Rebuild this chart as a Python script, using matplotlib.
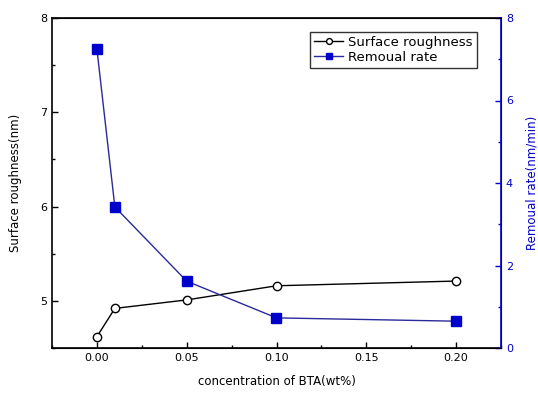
import numpy as np
import matplotlib.pyplot as plt
from matplotlib.ticker import MultipleLocator

plt.rcParams['font.family'] = ['DejaVu Sans']

conc = [0.00, 0.01, 0.05, 0.10, 0.20]
roughness = [4.62, 4.92, 5.01, 5.16, 5.21]
removal_rate = [7.25, 3.42, 1.62, 0.73, 0.65]

blue = '#0000cc'

fig = plt.figure(figsize=(5.38, 3.94), dpi=100)
ax = fig.add_axes([52 / 538, 1 - 348 / 394, 449 / 538, 330 / 394])
ax2 = ax.twinx()

l1, = ax.plot(conc, roughness, '-', color='black', lw=1.0, marker='o',
              mfc='white', mec='black', ms=6, label='Surface roughness')
l2, = ax2.plot(conc, removal_rate, '-', color='#2a2a9a', lw=1.0, marker='s',
               mfc=blue, mec=blue, ms=6.5, label='Remoual rate')

ax.set_xlim(-0.025, 0.225)
ax.set_ylim(4.5, 8)
ax2.set_ylim(0, 8)

ax.xaxis.set_major_locator(MultipleLocator(0.05))
ax.xaxis.set_minor_locator(MultipleLocator(0.025))
ax.yaxis.set_major_locator(MultipleLocator(1))
ax.yaxis.set_minor_locator(MultipleLocator(0.5))
ax2.yaxis.set_major_locator(MultipleLocator(2))
ax2.yaxis.set_minor_locator(MultipleLocator(1))
ax.xaxis.set_major_formatter(plt.FormatStrFormatter('%.2f'))

ax.tick_params(which='both', direction='in', labelsize=8, width=1)
ax.tick_params(which='major', length=4)
ax.tick_params(which='minor', length=2)
ax.tick_params(axis='y', which='both', right=False)
ax2.tick_params(which='both', direction='in', labelsize=8, colors=blue, width=1)
ax2.tick_params(which='major', length=4)
ax2.tick_params(which='minor', length=2)

for s in ['left', 'bottom', 'top']:
    ax.spines[s].set_linewidth(1.2)
ax2.spines['right'].set_color(blue)
ax2.spines['right'].set_linewidth(1.2)
ax2.spines['left'].set_visible(False)

ax.set_xlabel('concentration of BTA(wt%)', fontsize=8.5, labelpad=9)
ax.set_ylabel('Surface roughness(nm)', fontsize=8.5, labelpad=13)
ax2.set_ylabel('Remoual rate(nm/min)', fontsize=8.5, color=blue, labelpad=9)

leg = ax.legend([l1, l2], ['Surface roughness', 'Remoual rate'],
                loc='upper right', bbox_to_anchor=(0.955, 0.97), fontsize=9.5,
                frameon=True, fancybox=False, edgecolor='black',
                handlelength=2.2, handletextpad=0.4, borderaxespad=0.3,
                labelspacing=0.15, borderpad=0.3, markerscale=0.7)
leg.get_frame().set_linewidth(1.0)

fig.savefig('out.png', dpi=100)
